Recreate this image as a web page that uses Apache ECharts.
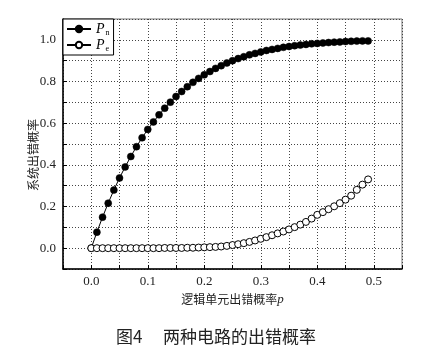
<!DOCTYPE html>
<html>
<head>
<meta charset="utf-8">
<script src="https://cdn.jsdelivr.net/npm/echarts@6/dist/echarts.min.js"></script>
<style>
html,body{margin:0;padding:0;background:#fff;}
#chart{width:432px;height:361px;}
</style>
</head>
<body>
<div id="chart"></div>
<script>
// p values 0.00 .. 0.49
const pValues = [0.00,0.01,0.02,0.03,0.04,0.05,0.06,0.07,0.08,0.09,
                 0.10,0.11,0.12,0.13,0.14,0.15,0.16,0.17,0.18,0.19,
                 0.20,0.21,0.22,0.23,0.24,0.25,0.26,0.27,0.28,0.29,
                 0.30,0.31,0.32,0.33,0.34,0.35,0.36,0.37,0.38,0.39,
                 0.40,0.41,0.42,0.43,0.44,0.45,0.46,0.47,0.48,0.49];
const pnValues = [0.000,0.077,0.149,0.216,0.279,0.337,0.390,0.440,0.487,0.530,
                  0.570,0.606,0.640,0.672,0.701,0.728,0.752,0.775,0.796,0.815,
                  0.832,0.848,0.863,0.876,0.889,0.900,0.910,0.919,0.928,0.935,
                  0.942,0.949,0.954,0.959,0.964,0.968,0.972,0.975,0.978,0.981,
                  0.983,0.985,0.987,0.989,0.990,0.992,0.993,0.994,0.995,0.995];
const peValues = [0.000,0.000,0.000,0.000,0.000,0.000,0.000,0.000,0.000,0.000,
                  0.000,0.000,0.000,0.001,0.001,0.001,0.001,0.002,0.002,0.003,
                  0.004,0.005,0.006,0.008,0.011,0.015,0.019,0.024,0.030,0.037,
                  0.045,0.053,0.062,0.071,0.080,0.090,0.101,0.113,0.126,0.142,
                  0.160,0.173,0.187,0.201,0.216,0.233,0.252,0.280,0.305,0.330];
const xTickLabels = ['0.0','0.1','0.2','0.3','0.4','0.5'];
const yTickLabels = ['0.0','0.2','0.4','0.6','0.8','1.0'];

const serif = '"Liberation Serif","DejaVu Serif",serif';
const cjk = '"Noto Sans CJK SC","Liberation Serif",serif';

const chart = echarts.init(document.getElementById('chart'));
const pair = arr => pValues.map((p, i) => [p, arr[i]]);

chart.setOption({
  animation: false,
  backgroundColor: '#fff',
  grid: {left: 63, right: 30, top: 19, bottom: 92, show: true,
         borderColor: '#777', borderWidth: 1, backgroundColor: 'transparent'},
  legend: {
    orient: 'vertical', left: 63, top: 19,
    padding: [3, 4, 2, 3], itemGap: 1,
    itemWidth: 24, itemHeight: 8,
    borderColor: '#000', borderWidth: 1, backgroundColor: '#fff',
    data: ['Pn', 'Pe'],
    formatter: name => name === 'Pn' ? '{i|P}{s|n}' : '{i|P}{s|e}',
    textStyle: {
      color: '#000',
      rich: {
        i: {fontFamily: serif, fontStyle: 'italic', fontSize: 14, color: '#000'},
        s: {fontFamily: serif, fontSize: 8, color: '#000', padding: [8, 0, 0, 1]}
      }
    }
  },
  xAxis: {
    type: 'value', min: -0.05, max: 0.55, interval: 0.05,
    name: '{c|逻辑单元出错概率}{i|p}', nameLocation: 'middle', nameGap: 24,
    nameMoveOverlap: false,
    nameTextStyle: {rich: {
      c: {fontFamily: cjk, fontSize: 12, color: '#222'},
      i: {fontFamily: serif, fontStyle: 'italic', fontSize: 13, color: '#222'}
    }},
    axisLine: {onZero: false, lineStyle: {color: '#000', width: 1.5}},
    axisTick: {inside: true, length: 4, lineStyle: {color: '#000'}},
    axisLabel: {
      margin: 6, fontFamily: serif, fontSize: 13, color: '#222',
      formatter: v => {
        const k = Math.round(v * 100);
        if (k >= 0 && k <= 50 && k % 10 === 0) return xTickLabels[k / 10];
        return '';
      }
    },
    splitLine: {show: true, lineStyle: {color: '#444', type: [1, 2], width: 1}}
  },
  yAxis: {
    type: 'value', min: -0.1, max: 1.1, interval: 0.1,
    name: '系统出错概率', nameLocation: 'middle', nameGap: 24,
    nameMoveOverlap: false,
    nameTextStyle: {fontFamily: cjk, fontSize: 12, color: '#222', padding: [0, 22, 0, 0]},
    axisLine: {onZero: false, lineStyle: {color: '#000', width: 1.5}},
    axisTick: {inside: true, length: 4, lineStyle: {color: '#000'}},
    axisLabel: {
      margin: 7, fontFamily: serif, fontSize: 13, color: '#222',
      formatter: v => {
        const k = Math.round(v * 10);
        if (k >= 0 && k <= 10 && k % 2 === 0) return yTickLabels[k / 2];
        return '';
      }
    },
    splitLine: {show: true, lineStyle: {color: '#444', type: [1, 2], width: 1}}
  },
  series: [
    {
      name: 'Pn', type: 'line', data: pair(pnValues), z: 2,
      symbol: 'circle', symbolSize: 7, showSymbol: true,
      lineStyle: {color: '#000', width: 1},
      itemStyle: {color: '#000', borderColor: '#000', borderWidth: 0.5}
    },
    {
      name: 'Pe', type: 'line', data: pair(peValues), z: 3,
      symbol: 'circle', symbolSize: 7, showSymbol: true,
      lineStyle: {color: '#000', width: 1},
      itemStyle: {color: '#fff', borderColor: '#000', borderWidth: 1}
    }
  ],
  graphic: [{
    type: 'text', left: 'center', top: 328,
    style: {text: '图4\u3000 两种电路的出错概率', font: '17px "Noto Sans CJK SC"', fill: '#222'}
  }]
});
</script>
</body>
</html>
